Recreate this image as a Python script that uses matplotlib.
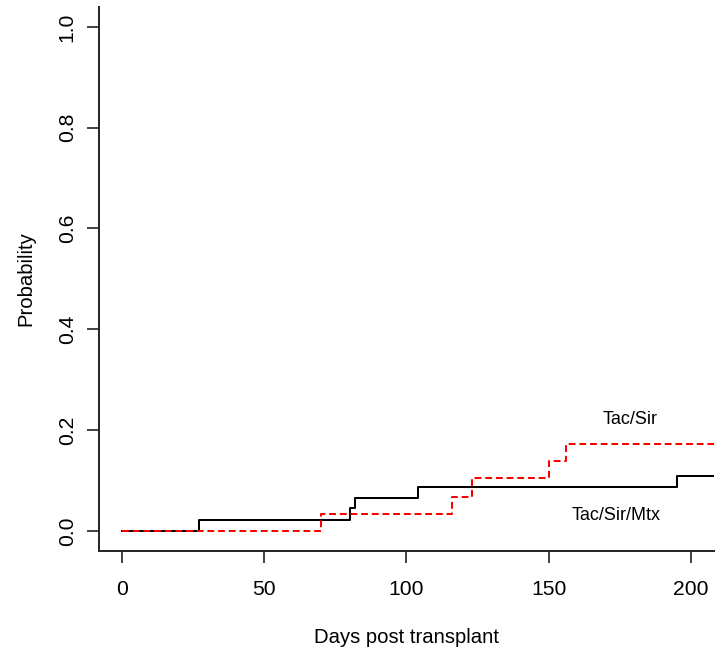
import matplotlib
matplotlib.use("Agg")
import matplotlib.pyplot as plt

plt.rcParams["font.family"] = ["Liberation Sans", "DejaVu Sans"]

# cumulative incidence step functions (day of step, value after step)
mtx_days = [0, 27, 80, 82, 104, 195, 210]
mtx_prob = [0.0, 0.021, 0.045, 0.065, 0.086, 0.109, 0.109]

sir_days = [0, 70, 116, 123, 150, 156, 210]
sir_prob = [0.0, 0.034, 0.068, 0.104, 0.139, 0.172, 0.172]

x_ticks = [0, 50, 100, 150, 200]
y_ticks = [0.0, 0.2, 0.4, 0.6, 0.8, 1.0]

fig = plt.figure(figsize=(7.24, 6.55), dpi=100)
ax = fig.add_axes([99 / 724, 104 / 655, 615 / 724, 544.3 / 655])

ax.step(mtx_days, mtx_prob, where="post", color="black", linewidth=1.45)
ax.step(sir_days, sir_prob, where="post", color="#ff0000", linewidth=1.45,
        linestyle=(0, (3.4, 1.9)))

ax.text(178.5, 0.22, "Tac/Sir", fontsize=13, ha="center", va="center")
ax.text(173.5, 0.031, "Tac/Sir/Mtx", fontsize=13, ha="center", va="center")

ax.set_xlim(-8, 208)
ax.set_ylim(-0.04, 1.04)
ax.set_xticks(x_ticks)
ax.set_xticklabels([str(t) for t in x_ticks])
ax.set_yticks(y_ticks)
ax.set_yticklabels([f"{t:.1f}" for t in y_ticks], rotation=90, va="center")

ax.tick_params(axis="both", direction="out", length=8.5, width=1.2,
               labelsize=15.2, color="#222222")
ax.tick_params(axis="x", pad=12.5)
ax.tick_params(axis="y", pad=7.5)

ax.set_xlabel("Days post transplant", fontsize=14.6, labelpad=21)
ax.set_ylabel("Probability", fontsize=14.6, labelpad=16)

for spine in ("top", "right"):
    ax.spines[spine].set_visible(False)
for spine in ("left", "bottom"):
    ax.spines[spine].set_linewidth(1.4)
    ax.spines[spine].set_color("#222222")

fig.savefig("out.png", dpi=100)
